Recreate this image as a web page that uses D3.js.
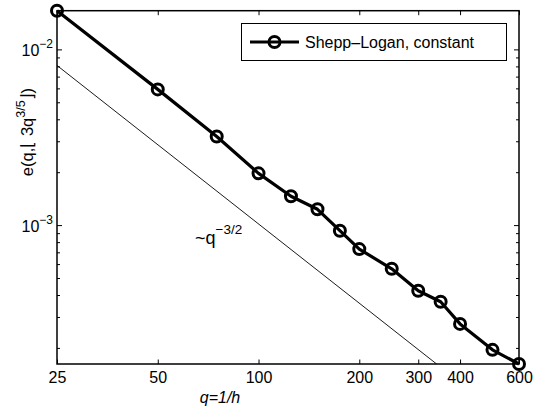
<!DOCTYPE html>
<meta charset="utf-8">
<head>
  <script src="https://d3js.org/d3.v7.min.js"></script>
</head>
<style>
body { margin: 0; background: white; }
svg { font-family: "Liberation Sans", Arial, Helvetica, sans-serif; }
.axis path { display: none; }
.axis line { stroke: black; stroke-width: 1; }
</style>
<body>
<svg width="536" height="411" id="container"></svg>
<script>

// data
var qValues = [25, 50, 75, 100, 125, 150, 175, 200, 250, 300, 350, 400, 500, 600];
var errValues = [1.66e-2, 5.92e-3, 3.19e-3, 1.97e-3, 1.46e-3, 1.23e-3, 9.29e-4,
                 7.30e-4, 5.64e-4, 4.23e-4, 3.66e-4, 2.74e-4, 1.95e-4, 1.62e-4];
// reference slope line ~q^-3/2 (two end points)
var refQ = [25, 360];
var refErr = [8.1e-3, 1.49e-4];

var xTicks = [25, 50, 100, 200, 300, 400, 600];
var yMajor = [1e-3, 1e-2];
var yMinor = [2e-4, 3e-4, 4e-4, 5e-4, 6e-4, 7e-4, 8e-4, 9e-4,
              2e-3, 3e-3, 4e-3, 5e-3, 6e-3, 7e-3, 8e-3, 9e-3];
var yExp = {"0.001": "\u22123", "0.01": "\u22122"};

var legendLabel = "Shepp\u2013Logan, constant";

var svg = d3.select('#container');
var plotLeft = 57, plotRight = 519, plotTop = 10.7, plotBottom = 364;

var data = qValues.map(function(q, i) { return {q: q, e: errValues[i]}; });
var refData = refQ.map(function(q, i) { return {q: q, e: refErr[i]}; });

var x = d3.scaleLog().domain([25, 600]).range([plotLeft, plotRight]);
var y = d3.scaleLog().domain(d3.extent(errValues)).range([plotBottom, plotTop]);

svg.append('clipPath').attr('id', 'plotclip')
   .append('rect')
   .attr('x', plotLeft).attr('y', plotTop)
   .attr('width', plotRight - plotLeft).attr('height', plotBottom - plotTop);

// reference line
var line = d3.line()
  .x(function(d) { return x(d.q); })
  .y(function(d) { return y(d.e); });

svg.append('path')
   .datum(refData)
   .attr('clip-path', 'url(#plotclip)')
   .attr('d', line)
   .attr('fill', 'none')
   .attr('stroke', 'black')
   .attr('stroke-width', 0.9);

// axes: bottom and top
var xBottom = svg.append('g')
  .attr('class', 'axis')
  .attr('transform', 'translate(0,' + plotBottom + ')')
  .call(d3.axisBottom(x).tickValues(xTicks).tickFormat(d3.format('d'))
        .tickSizeInner(-4.5).tickSizeOuter(0).tickPadding(4));
xBottom.selectAll('text')
  .attr('font-size', 16)
  .attr('fill', 'black')
  .attr('dy', '0.95em');

svg.append('g')
  .attr('class', 'axis')
  .attr('transform', 'translate(0,' + plotTop + ')')
  .call(d3.axisTop(x).tickValues(xTicks).tickFormat('')
        .tickSizeInner(-4.5).tickSizeOuter(0));

// y axes: left and right
var yTicks = yMajor.concat(yMinor);
function isMajor(d) { return yMajor.indexOf(d) >= 0; }

var yLeft = svg.append('g')
  .attr('class', 'axis')
  .attr('transform', 'translate(' + plotLeft + ',0)')
  .call(d3.axisLeft(y).tickValues(yTicks).tickFormat('').tickSizeOuter(0));
yLeft.selectAll('.tick line').attr('x2', function(d) { return isMajor(d) ? 5 : 3; });

var yRight = svg.append('g')
  .attr('class', 'axis')
  .attr('transform', 'translate(' + plotRight + ',0)')
  .call(d3.axisRight(y).tickValues(yTicks).tickFormat('').tickSizeOuter(0));
yRight.selectAll('.tick line').attr('x2', function(d) { return isMajor(d) ? -5 : -3; });

// y tick labels with exponents
yMajor.forEach(function(v) {
  var t = svg.append('text')
    .attr('x', plotLeft - 4)
    .attr('y', y(v) + 6.5)
    .attr('text-anchor', 'end')
    .attr('font-size', 16);
  t.append('tspan').text('10');
  t.append('tspan').attr('font-size', 12).attr('dy', -8).text(yExp[String(v)]);
});

// box
svg.append('rect')
   .attr('x', plotLeft).attr('y', plotTop)
   .attr('width', plotRight - plotLeft).attr('height', plotBottom - plotTop)
   .attr('fill', 'none')
   .attr('stroke', 'black')
   .attr('stroke-width', 1.5);

// data line + markers
svg.append('path')
   .datum(data)
   .attr('d', line)
   .attr('fill', 'none')
   .attr('stroke', 'black')
   .attr('stroke-width', 3.2)
   .attr('stroke-linejoin', 'round');

svg.selectAll('.marker')
   .data(data)
   .enter()
   .append('circle')
   .attr('class', 'marker')
   .attr('cx', function(d) { return x(d.q); })
   .attr('cy', function(d) { return y(d.e); })
   .attr('r', 5.5)
   .attr('fill', 'none')
   .attr('stroke', 'black')
   .attr('stroke-width', 3);

// slope label
var slope = svg.append('text')
  .attr('x', 195)
  .attr('y', 244)
  .attr('font-size', 18);
slope.append('tspan').text('~q');
slope.append('tspan').attr('font-size', 13.5).attr('dy', -10).text('\u22123/2');

// axis labels
svg.append('text')
   .attr('x', 220)
   .attr('y', 403)
   .attr('text-anchor', 'middle')
   .attr('font-size', 16)
   .attr('font-style', 'italic')
   .text('q=1/h');

var ylab = svg.append('text')
  .attr('transform', 'translate(33,132) rotate(-90)')
  .attr('text-anchor', 'middle')
  .attr('font-size', 16.5);
ylab.append('tspan').text('e(q,\u230A 3q');
ylab.append('tspan').attr('font-size', 12.5).attr('dy', -8).text('3/5');
ylab.append('tspan').attr('dy', 8).text('\u230B)');

// legend
var legend = svg.append('g');
legend.append('rect')
  .attr('x', 241.5).attr('y', 23.5)
  .attr('width', 265).attr('height', 37)
  .attr('fill', 'white')
  .attr('stroke', 'black')
  .attr('stroke-width', 1);
legend.append('line')
  .attr('x1', 250).attr('x2', 299)
  .attr('y1', 42).attr('y2', 42)
  .attr('stroke', 'black')
  .attr('stroke-width', 3.2);
legend.append('circle')
  .attr('cx', 274.5).attr('cy', 42)
  .attr('r', 5.5)
  .attr('fill', 'none')
  .attr('stroke', 'black')
  .attr('stroke-width', 3);
legend.append('text')
  .attr('x', 305)
  .attr('y', 47.5)
  .attr('font-size', 16)
  .text(legendLabel);

</script>
</body>
